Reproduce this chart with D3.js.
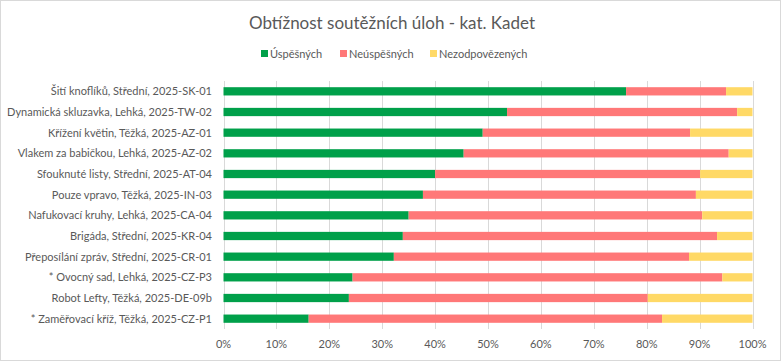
<!DOCTYPE html>
<html>
<head>
<meta charset="utf-8">
<script src="https://cdn.jsdelivr.net/npm/d3@7"></script>
<style>
  body { margin: 0; background: #fff; }
  svg { display: block; font-family: Lato, "Open Sans", sans-serif; }
</style>
</head>
<body>
<div id="chart"></div>
<script>
// Chart data (shares in %)
const tasks = [
    'Šití knoflíků, Střední, 2025-SK-01',
    'Dynamická skluzavka, Lehká, 2025-TW-02',
    'Křížení květin, Těžká, 2025-AZ-01',
    'Vlakem za babičkou, Lehká, 2025-AZ-02',
    'Sfouknuté listy, Střední, 2025-AT-04',
    'Pouze vpravo, Těžká, 2025-IN-03',
    'Nafukovací kruhy, Lehká, 2025-CA-04',
    'Brigáda, Střední, 2025-KR-04',
    'Přeposílání zpráv, Střední, 2025-CR-01',
    '* Ovocný sad, Lehká, 2025-CZ-P3',
    'Robot Lefty, Těžká, 2025-DE-09b',
    '* Zaměřovací kříž, Těžká, 2025-CZ-P1'
];
const successful   = [76.1, 53.6, 49.0, 45.4, 40.0, 37.7, 35.0, 33.9, 32.2, 24.4, 23.7, 16.1];
const unsuccessful = [18.9, 43.5, 39.2, 50.1, 50.1, 51.6, 55.5, 59.4, 55.8, 69.9, 56.5, 66.8];
const unanswered   = [5.0, 2.9, 11.8, 4.5, 9.9, 10.7, 9.5, 6.7, 12.0, 5.7, 19.8, 17.1];

const seriesNames = ['Úspěšných', 'Neúspěšných', 'Nezodpovězených'];
const seriesColors = ['#00a04a', '#ff7878', '#ffd966'];
const xTicks = [0, 10, 20, 30, 40, 50, 60, 70, 80, 90, 100];

const width = 781, height = 361;
const margin = { top: 81, right: 28.5, bottom: 32, left: 223.5 };

const svg = d3.select('#chart').append('svg')
    .attr('width', width)
    .attr('height', height);

// outer border
svg.append('rect')
    .attr('x', 0.5).attr('y', 0.5)
    .attr('width', width - 1).attr('height', height - 1)
    .style('fill', '#fff')
    .style('stroke', '#d9d9d9');

const rows = tasks.map((t, i) => ({
    task: t,
    'Úspěšných': successful[i],
    'Neúspěšných': unsuccessful[i],
    'Nezodpovězených': unanswered[i]
}));

const stack = d3.stack().keys(seriesNames);
const layers = stack(rows);

const x = d3.scaleLinear()
    .domain([0, 100])
    .range([margin.left, width - margin.right]);

const y = d3.scaleBand()
    .domain(tasks)
    .range([margin.top, height - margin.bottom])
    .paddingInner(0.6)
    .paddingOuter(0.3);

// gridlines
svg.append('g')
    .selectAll('line')
    .data(xTicks)
    .join('line')
    .attr('x1', d => Math.round(x(d)) + 0.5)
    .attr('x2', d => Math.round(x(d)) + 0.5)
    .attr('y1', margin.top)
    .attr('y2', height - margin.bottom)
    .style('stroke', '#d9d9d9')
    .style('stroke-width', 1);

// bars
svg.append('g')
    .selectAll('g')
    .data(layers)
    .join('g')
    .style('fill', (d, i) => seriesColors[i])
    .selectAll('rect')
    .data(d => d)
    .join('rect')
    .attr('x', d => x(d[0]))
    .attr('width', d => x(d[1]) - x(d[0]))
    .attr('y', d => y(d.data.task))
    .attr('height', y.bandwidth());

// category labels
svg.append('g')
    .selectAll('text')
    .data(tasks)
    .join('text')
    .attr('x', 212)
    .attr('y', d => y(d) + y.bandwidth() / 2)
    .attr('dy', '0.35em')
    .attr('text-anchor', 'end')
    .style('font-size', '11px')
    .style('fill', '#595959')
    .text(d => d);

// x tick labels
svg.append('g')
    .selectAll('text')
    .data(xTicks)
    .join('text')
    .attr('x', d => x(d))
    .attr('y', 344)
    .attr('dy', '0.35em')
    .attr('text-anchor', 'middle')
    .style('font-size', '11px')
    .style('fill', '#595959')
    .text(d => d + '%');

// title
svg.append('text')
    .attr('x', 392)
    .attr('y', 23)
    .attr('dy', '0.35em')
    .attr('text-anchor', 'middle')
    .style('font-size', '17px')
    .style('fill', '#595959')
    .text('Obtížnost soutěžních úloh - kat. Kadet');

// legend
const legendX = [261, 340, 430];
const legend = svg.append('g')
    .selectAll('g')
    .data(seriesNames)
    .join('g')
    .attr('transform', (d, i) => `translate(${legendX[i]},54)`);

legend.append('rect')
    .attr('x', 0).attr('y', -4)
    .attr('width', 7).attr('height', 7)
    .style('fill', (d, i) => seriesColors[i]);

legend.append('text')
    .attr('x', 9)
    .attr('y', 0)
    .attr('dy', '0.35em')
    .style('font-size', '11px')
    .style('fill', '#595959')
    .text(d => d);
</script>
</body>
</html>
